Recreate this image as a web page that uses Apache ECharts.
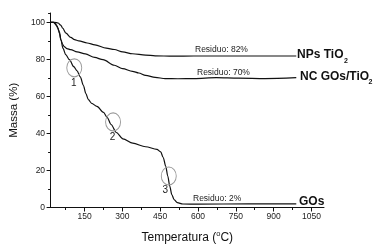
<!DOCTYPE html>
<html><head><meta charset="utf-8">
<script src="https://cdn.jsdelivr.net/npm/echarts@6/dist/echarts.min.js"></script>
<style>html,body{margin:0;padding:0;background:#fff}#c{width:374px;height:249px}</style>
</head><body><div id="c"></div>
<script>
// ---- data ----
const tempNPs = [15,30,45,55,63,76,95,110,127,160,191,236,268,301,340,392,430,500,584,700,800,900,990];
const massNPs = [100,100,99.6,98.5,96.8,94.1,91.8,90.6,90,88.8,87.8,86,85.3,84,83,82.3,81.9,81.7,81.8,81.8,81.8,81.8,81.8];
const tempNC = [15,28,40,50,56,63,69,80,95,120,153,190,223,268,301,340,365,392,430,470,520,584,673,760,866,990];
const massNC = [100,100,98,95,90.5,88,86.9,85.8,85.2,84,82.9,81,79.8,76.8,75,73.5,72.6,71.3,70.2,69.6,69.5,69.6,70.1,69.8,69.6,70.1];
const tempGO = [15,25,35,44,50,56,64,75,90,107,120,133,145,155,165,178,199,225,240,255,276,302,341,392,437,452,462,472,480,488,496,505,518,540,600,800,990];
const massGO = [100,100,99.2,96.8,94,90.5,86,82.5,79.8,76,73.8,70.5,66,61.5,58.2,56.2,54.6,51.3,48.5,44.8,40.5,37,34.7,32.8,31.4,30,27,22.2,17,11.5,7,4.3,2.6,1.9,1.8,2,2];
const xLabels = [150,300,450,600,750,900,1050];
const xMinor = [75,225,375,525,675,825,975];
const yLabels = [0,20,40,60,80,100];
const yMinor = [10,30,50,70,90,105];
const stepNums = ['1','2','3'];
const stepTemp = [109,263,484];
const stepMass = [75.4,46.2,17.0];
const residueTexts = ['Residuo: 82%','Residuo: 70%','Residuo: 2%'];

const FONT = '"Liberation Sans", Arial, sans-serif';
const zip = (a,b) => a.map((v,i)=>[v,b[i]]);
const chart = echarts.init(document.getElementById('c'));
const lineSeries = (name, t, m, extra) => Object.assign({
  name, type:'line', xAxisIndex:0, yAxisIndex:0, data: zip(t,m), showSymbol:false,
  smooth:0.3, smoothMonotone:'x', lineStyle:{color:'#111', width:1.2}, silent:true, animation:false
}, extra||{});

chart.setOption({
  animation:false,
  grid: {left:42, right:50, top:13, bottom:40},
  xAxis: [{
    type:'value', min:15, max:1100,
    name:'{a|Temperatura (}{s|o}{a|C)}', nameLocation:'middle', nameGap:22,
    nameTextStyle:{rich:{a:{fontSize:12, lineHeight:17, fontFamily:FONT, color:'#111'}, s:{fontSize:7.5, fontFamily:FONT, color:'#111', verticalAlign:'top'}}},
    axisLine:{lineStyle:{color:'#111', width:1}},
    axisTick:{customValues:xLabels, length:4, lineStyle:{color:'#111'}},
    axisLabel:{customValues:xLabels, fontSize:8.5, fontFamily:FONT, color:'#222', margin:5, formatter:v=>String(v)},
    splitLine:{show:false}
  },{
    type:'value', min:15, max:1100, position:'bottom',
    axisLine:{show:false}, axisLabel:{show:false},
    axisTick:{customValues:xMinor, length:2.5, lineStyle:{color:'#111'}},
    splitLine:{show:false}
  }],
  yAxis: [{
    type:'value', min:0, max:105,
    name:'Massa (%)', nameLocation:'middle', nameGap:24, nameRotate:90,
    nameTextStyle:{fontSize:11.5, fontFamily:FONT, color:'#111', padding:[0,0,0,0]},
    axisLine:{show:true, lineStyle:{color:'#111', width:1}},
    axisTick:{show:true, customValues:yLabels, length:4, lineStyle:{color:'#111'}},
    axisLabel:{customValues:yLabels, fontSize:8.5, fontFamily:FONT, color:'#222', margin:5.5, formatter:v=>String(v)},
    splitLine:{show:false}
  },{
    type:'value', min:0, max:105, position:'left',
    axisLine:{show:false}, axisLabel:{show:false},
    axisTick:{show:true, customValues:yMinor, length:2.5, lineStyle:{color:'#111'}},
    splitLine:{show:false}
  }],
  series: [
    lineSeries('NPs TiO2', tempNPs, massNPs),
    lineSeries('NC GOs/TiO2', tempNC, massNC),
    lineSeries('GOs', tempGO, massGO, {
      markPoint:{
        symbol:'circle', symbolSize:[15,18], silent:true, animation:false,
        itemStyle:{color:'rgba(0,0,0,0)', borderColor:'#9a9a9a', borderWidth:1},
        label:{show:true, position:'bottom', distance:1, fontSize:10, fontFamily:FONT, color:'#222',
               formatter:p=>p.name},
        data: stepNums.map((n,i)=>({name:n, coord:[stepTemp[i], stepMass[i]],
          label: i===2 ? {offset:[-3.5,-1]} : {offset:[-0.5,0]}}))
      }
    })
  ],
  graphic: [
    {type:'text', x:195, y:50, style:{text:residueTexts[0], font:'8.5px '+FONT, fill:'#222', align:'left', verticalAlign:'middle'}},
    {type:'text', x:197, y:72.7, style:{text:residueTexts[1], font:'8.5px '+FONT, fill:'#222', align:'left', verticalAlign:'middle'}},
    {type:'text', x:193, y:198.8, style:{text:residueTexts[2], font:'8.5px '+FONT, fill:'#222', align:'left', verticalAlign:'middle'}},
    {type:'text', x:297, y:54.5, style:{text:'NPs TiO', font:'bold 12px '+FONT, fill:'#111', align:'left', verticalAlign:'middle'}},
    {type:'text', x:344, y:61, style:{text:'2', font:'bold 7px '+FONT, fill:'#111', align:'left', verticalAlign:'middle'}},
    {type:'text', x:300, y:77, style:{text:'NC GOs/TiO', font:'bold 12px '+FONT, fill:'#111', align:'left', verticalAlign:'middle'}},
    {type:'text', x:368.5, y:82, style:{text:'2', font:'bold 7px '+FONT, fill:'#111', align:'left', verticalAlign:'middle'}},
    {type:'text', x:299, y:201.5, style:{text:'GOs', font:'bold 12px '+FONT, fill:'#111', align:'left', verticalAlign:'middle'}}
  ]
});
</script></body></html>
